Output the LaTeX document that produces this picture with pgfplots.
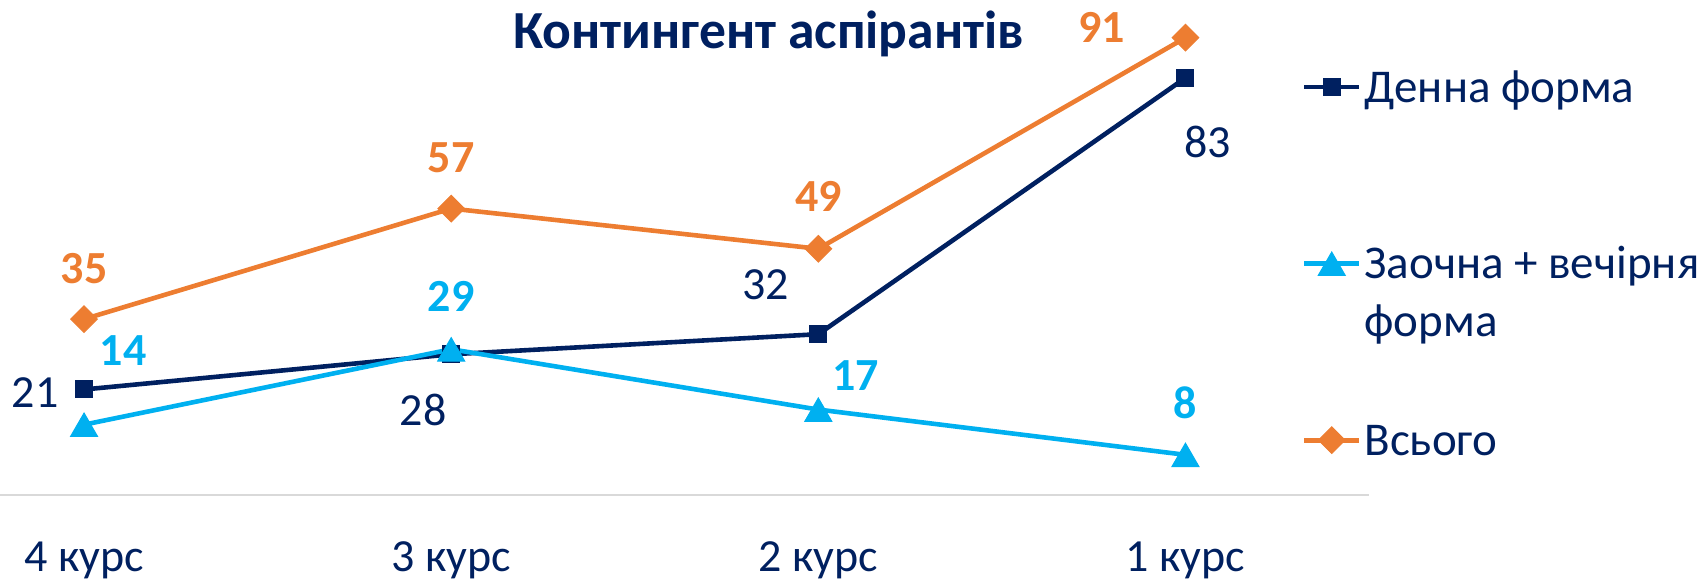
\documentclass[border=0pt]{standalone}
\usepackage{fontspec}
\setmainfont{Carlito}
\usepackage{pgfplots}
\usepackage{pgfplotstable}
\pgfplotsset{compat=1.18}
\definecolor{navy}{HTML}{002060}
\definecolor{cyanx}{HTML}{00B0F0}
\definecolor{orng}{HTML}{ED7D31}
\definecolor{axgray}{HTML}{D9D9D9}

\pgfplotstableread{
x y
0 21
1 28
2 32
3 83
}\denna
\pgfplotstableread{
x y
0 14
1 29
2 17
3 8
}\zaochna
\pgfplotstableread{
x y
0 35
1 57
2 49
3 91
}\vsogo

% label: x, y, xshift, yshift, font, colour
\newcommand\lab[6]{\addplot[forget plot, draw=none, mark=none, point meta=explicit,
    nodes near coords,
    nodes near coords style={anchor=center, inner sep=0pt, xshift=#3, yshift=#4,
      font=#5\fontsize{23}{28}\selectfont, text=#6}]
    coordinates {(#1,#2) [#2]};}

\begin{document}
\begin{tikzpicture}
\begin{axis}[
  at={(0pt,0pt)}, anchor=north west,
  scale only axis,
  width=684.5pt, height=247.5pt,
  xmin=-0.229, xmax=3.5,
  ymin=0, ymax=98.5,
  clip=false,
  axis y line=none,
  axis x line*=bottom,
  x axis line style={draw=axgray, line width=0.8pt},
  major tick length=0pt,
  xtick={0,1,2,3},
  xticklabels={4 курс,3 курс,2 курс,1 курс},
  xticklabel style={anchor=base, yshift=-38pt, font=\fontsize{23}{28}\selectfont, text=navy},
  ytick=\empty,
  /pgf/number format/assume math mode=true,
  title={Контингент аспірантів},
  title style={at={(0.5614,0.8788)}, anchor=base, font=\bfseries\fontsize{26.8}{32}\selectfont, text=navy},
  legend cell align=left,
  legend image code/.code={\draw[mark repeat=2,mark phase=2] plot coordinates {(0pt,0pt) (13.75pt,0pt) (27.5pt,0pt)};},
  legend style={at={(0.951,0.8747)}, anchor=north west, draw=none, fill=none,
    inner sep=0pt, outer sep=0pt, column sep=1.5pt, row sep=60.3pt,
    font=\fontsize{23.5}{28.8}\selectfont, text=navy,
    nodes={anchor=base west, yshift=-7.5pt, inner sep=0pt, text height=20pt, text depth=8pt}},
]
\addplot[navy, line width=2.3pt, mark=square*, mark size=4.25pt,
  mark options={solid, line width=0.5pt}]
  table[x=x,y=y]{\denna};
\addlegendentry{Денна форма}
\addplot[cyanx, line width=2.3pt, mark=triangle*, mark size=7.8pt,
  mark options={solid, line width=0.5pt, yshift=-2pt}]
  table[x=x,y=y]{\zaochna};
\addlegendentry{\smash{\begin{tabular}[t]{@{}l@{}}Заочна + вечірня\\форма\end{tabular}}}
\addplot[orng, line width=2.3pt, mark=square*, mark size=4.7pt,
  mark options={solid, line width=0.5pt, rotate=45}]
  table[x=x,y=y]{\vsogo};
\addlegendentry{Всього}
% data labels
\lab{0}{21}{-24.5pt}{-1.5pt}{}{navy}
\lab{1}{28}{-14pt}{-28pt}{}{navy}
\lab{2}{32}{-26.5pt}{24.5pt}{}{navy}
\lab{3}{83}{11pt}{-32pt}{}{navy}
\lab{0}{14}{19.5pt}{37pt}{\bfseries}{cyanx}
\lab{1}{29}{0pt}{26.5pt}{\bfseries}{cyanx}
\lab{2}{17}{18.5pt}{17pt}{\bfseries}{cyanx}
\lab{3}{8}{0pt}{26pt}{\bfseries}{cyanx}
\lab{0}{35}{0pt}{25.5pt}{\bfseries}{orng}
\lab{1}{57}{0pt}{25.5pt}{\bfseries}{orng}
\lab{2}{49}{0pt}{26.3pt}{\bfseries}{orng}
\lab{3}{91}{-42pt}{5pt}{\bfseries}{orng}
\end{axis}
\pgfresetboundingbox
\path[use as bounding box] (0pt,0pt) rectangle (853pt,-290pt);
\end{tikzpicture}
\end{document}
